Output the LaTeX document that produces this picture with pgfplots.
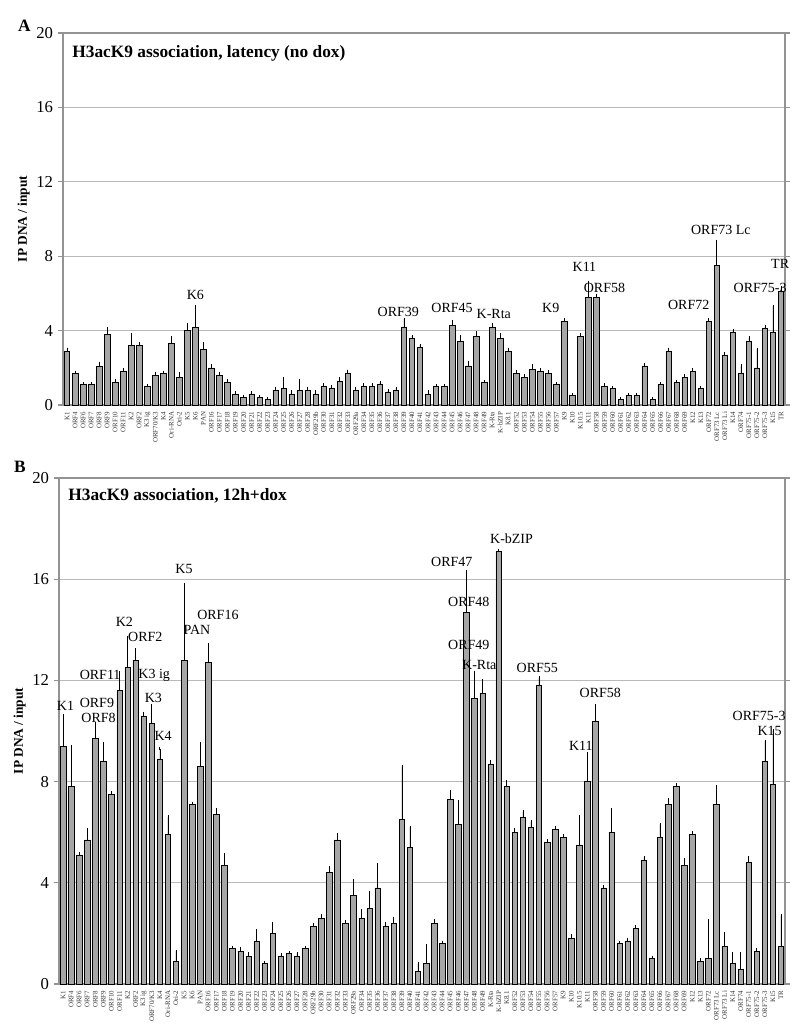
\documentclass[border=0pt]{standalone}
\usepackage{fontspec}
\setmainfont{Liberation Serif}
\setsansfont{Liberation Sans}
\usepackage{pgfplots}
\usepackage{pgfplotstable}
\pgfplotsset{compat=1.18}

% latency (no dox)
\pgfplotstableread[col sep=comma]{
name,y,e
K1,2.9,0.1
ORF4,1.7,0.05
ORF6,1.1,0.05
ORF7,1.1,0.05
ORF8,2.1,0.1
ORF9,3.8,0.3
ORF10,1.2,0.1
ORF11,1.8,0.1
K2,3.2,0.6
ORF2,3.2,0.1
K3 ig,1.0,0.05
ORF70/K3,1.6,0.1
K4,1.7,0.05
Ori-RNA,3.3,0.3
Ori-2,1.5,0.2
K5,4.0,0.3
K6,4.2,1.1
PAN,3.0,0.3
ORF16,2.0,0.1
ORF17,1.6,0.1
ORF18,1.2,0.1
ORF19,0.6,0.05
ORF20,0.4,0.05
ORF21,0.6,0.05
ORF22,0.4,0.05
ORF23,0.3,0.05
ORF24,0.8,0.1
ORF25,0.9,0.5
ORF26,0.6,0.1
ORF27,0.8,0.5
ORF28,0.8,0.1
ORF29b,0.6,0.1
ORF30,1.0,0.1
ORF31,0.9,0.1
ORF32,1.3,0.1
ORF33,1.7,0.1
ORF29a,0.8,0.1
ORF34,1.0,0.1
ORF35,1.0,0.1
ORF36,1.1,0.1
ORF37,0.7,0.05
ORF38,0.8,0.1
ORF39,4.2,0.4
ORF40,3.6,0.1
ORF41,3.1,0.1
ORF42,0.6,0.1
ORF43,1.0,0.05
ORF44,1.0,0.05
ORF45,4.3,0.2
ORF46,3.4,0.3
ORF47,2.1,0.2
ORF48,3.7,0.2
ORF49,1.2,0.05
K-Rta,4.2,0.1
K-bZIP,3.6,0.2
K8.1,2.9,0.1
ORF52,1.7,0.1
ORF53,1.5,0.1
ORF54,1.9,0.2
ORF55,1.8,0.1
ORF56,1.7,0.1
ORF57,1.1,0.05
K9,4.5,0.1
K10,0.5,0.05
K10.5,3.7,0.1
K11,5.8,0.8
ORF58,5.8,0.1
ORF59,1.0,0.1
ORF60,0.9,0.05
ORF61,0.3,0.05
ORF62,0.5,0.05
ORF63,0.5,0.05
ORF64,2.1,0.05
ORF65,0.3,0.05
ORF66,1.1,0.05
ORF67,2.9,0.1
ORF68,1.2,0.05
ORF69,1.5,0.1
K12,1.8,0.1
K13,0.9,0.05
ORF72,4.5,0.1
ORF73 Lc,7.5,1.3
ORF73 Li,2.7,0.05
K14,3.9,0.1
ORF74,1.7,0.4
ORF75-1,3.4,0.2
ORF75-2,2.0,1.0
ORF75-3,4.1,0.1
K15,3.9,1.4
TR,6.1,0.2
}\dataA

% 12h + dox
\pgfplotstableread[col sep=comma]{
name,y,e
K1,9.4,1.2
ORF4,7.8,1.6
ORF6,5.1,0.05
ORF7,5.7,0.4
ORF8,9.7,0.6
ORF9,8.8,0.7
ORF10,7.5,0.05
ORF11,11.6,0.7
K2,12.5,1.2
ORF2,12.8,0.4
K3 ig,10.6,0.1
ORF70/K3,10.3,0.7
K4,8.9,0.4
Ori-RNA,5.9,0.7
Ori-2,0.9,0.4
K5,12.8,3.0
K6,7.1,0.05
PAN,8.6,0.9
ORF16,12.7,0.7
ORF17,6.7,0.2
ORF18,4.7,0.4
ORF19,1.4,0.05
ORF20,1.3,0.1
ORF21,1.1,0.1
ORF22,1.7,0.4
ORF23,0.8,0.05
ORF24,2.0,0.4
ORF25,1.1,0.05
ORF26,1.2,0.05
ORF27,1.1,0.1
ORF28,1.4,0.05
ORF29b,2.3,0.05
ORF30,2.6,0.1
ORF31,4.4,0.2
ORF32,5.7,0.2
ORF33,2.4,0.05
ORF29a,3.5,0.6
ORF34,2.6,0.3
ORF35,3.0,0.6
ORF36,3.8,0.9
ORF37,2.3,0.1
ORF38,2.4,0.2
ORF39,6.5,2.1
ORF40,5.4,0.8
ORF41,0.5,0.3
ORF42,0.8,0.7
ORF43,2.4,0.1
ORF44,1.6,0.05
ORF45,7.3,0.3
ORF46,6.3,0.9
ORF47,14.7,1.6
ORF48,11.3,1.0
ORF49,11.5,0.5
K-Rta,8.7,0.1
K-bZIP,17.1,0.05
K8.1,7.8,0.2
ORF52,6.0,0.1
ORF53,6.6,0.2
ORF54,6.2,0.2
ORF55,11.8,0.3
ORF56,5.6,0.05
ORF57,6.1,0.1
K9,5.8,0.05
K10,1.8,0.1
K10.5,5.5,1.1
K11,8.0,1.1
ORF58,10.4,0.6
ORF59,3.8,0.05
ORF60,6.0,0.9
ORF61,1.6,0.05
ORF62,1.7,0.05
ORF63,2.2,0.05
ORF64,4.9,0.1
ORF65,1.0,0.05
ORF66,5.8,0.5
ORF67,7.1,0.2
ORF68,7.8,0.1
ORF69,4.7,0.2
K12,5.9,0.1
K13,0.9,0.05
ORF72,1.0,1.5
ORF73 Lc,7.1,0.7
ORF73 Li,1.5,0.5
K14,0.8,0.4
ORF74,0.6,0.6
ORF75-1,4.8,0.2
ORF75-2,1.3,0.05
ORF75-3,8.8,0.8
K15,7.9,2.1
TR,1.5,1.2
}\dataB

\pgfplotsset{
  panel/.style={
    scale only axis,
    ybar, bar width=4.1pt,
    xmin=0.5, xmax=90.5,
    ymin=0, ymax=20, ytick={0,4,...,20},
    ymajorgrids,
    grid style={gray!55, line width=0.7pt},
    axis line style={gray!85, line width=0.9pt},
    tick align=outside,
    ytick style={gray!85, line width=0.9pt},
    major tick length=4pt,
    xtick=data, xtick style={draw=none},
    xticklabels from table={\dataA}{name},
    x tick label style={rotate=90, anchor=east, inner sep=1pt,
      font=\fontsize{5.2}{5.2}\selectfont, text=black!80},
    y tick label style={font=\fontsize{12.5}{12.5}\selectfont},
    /pgf/number format/assume math mode=true,
    ylabel={\textbf{IP DNA / input}},
    ylabel style={font=\fontsize{10}{10}\selectfont, yshift=-2pt},
    clip=false,
  },
  bars/.style={fill=gray!70, draw=black, line width=0.4pt,
    error bars/.cd, y dir=plus, y explicit,
    error bar style={black, line width=0.5pt},
    error mark options={black, mark size=1.2pt, line width=0.5pt}},
}
\tikzset{lab/.style={font=\fontsize{10.5}{10.5}\selectfont, inner sep=0.5pt}}

\begin{document}
\begin{tikzpicture}
\useasboundingbox (0,0) rectangle (600pt,774pt);

\node[anchor=west, font=\bfseries\fontsize{13}{13}\selectfont] at (10pt,755pt) {A};
\node[anchor=west, font=\bfseries\fontsize{13}{13}\selectfont] at (7pt,423.5pt) {B};

\begin{axis}[panel, at={(47.25pt,470.25pt)}, anchor=south west,
  width=541.5pt, height=279pt]
\addplot[bars] table[x expr=\coordindex+1, y=y, y error=e] {\dataA};
\node[anchor=north west, font=\bfseries\fontsize{13}{13}\selectfont]
  at (rel axis cs:0,1) [xshift=3.5pt, yshift=-6pt] {H3acK9 association, latency (no dox)};
\node[lab] at (axis cs:17,5.9) {K6};
\node[lab] at (axis cs:42.3,5.0) {ORF39};
\node[lab] at (axis cs:49,5.2) {ORF45};
\node[lab] at (axis cs:54.2,4.9) {K-Rta};
\node[lab] at (axis cs:61.3,5.2) {K9};
\node[lab] at (axis cs:65.5,7.4) {K11};
\node[lab] at (axis cs:68,6.3) {ORF58};
\node[lab] at (axis cs:78.5,5.4) {ORF72};
\node[lab] at (axis cs:82.5,9.4) {ORF73 Lc};
\node[lab] at (axis cs:87.4,6.3) {ORF75-3};
\node[lab] at (axis cs:89.9,7.6) {TR};
\end{axis}

\begin{axis}[panel, at={(44.25pt,36pt)}, anchor=south west,
  width=544.5pt, height=379.5pt]
\addplot[bars] table[x expr=\coordindex+1, y=y, y error=e] {\dataB};
\node[anchor=north west, font=\bfseries\fontsize{13}{13}\selectfont]
  at (rel axis cs:0,1) [xshift=3.5pt, yshift=-4pt] {H3acK9 association, 12h+dox};
\node[lab] at (axis cs:1.3,11.0) {K1};
\node[lab] at (axis cs:5.2,11.1) {ORF9};
\node[lab] at (axis cs:5.4,10.5) {ORF8};
\node[lab] at (axis cs:5.6,12.2) {ORF11};
\node[lab] at (axis cs:8.6,14.3) {K2};
\node[lab] at (axis cs:11.2,13.7) {ORF2};
\node[lab] at (axis cs:12.3,12.2) {K3 ig};
\node[lab] at (axis cs:12.2,11.3) {K3};
\node[lab] at (axis cs:13.4,9.8) {K4};
\node[lab] at (axis cs:16,16.4) {K5};
\node[lab] at (axis cs:17.6,14.0) {PAN};
\node[lab] at (axis cs:20.2,14.6) {ORF16};
\node[lab] at (axis cs:49.2,16.7) {ORF47};
\node[lab] at (axis cs:51.3,15.1) {ORF48};
\node[lab] at (axis cs:51.3,13.4) {ORF49};
\node[lab] at (axis cs:52.6,12.6) {K-Rta};
\node[lab] at (axis cs:56.6,17.6) {K-bZIP};
\node[lab] at (axis cs:59.8,12.5) {ORF55};
\node[lab] at (axis cs:65.2,9.4) {K11};
\node[lab] at (axis cs:67.6,11.5) {ORF58};
\node[lab] at (axis cs:87.3,10.6) {ORF75-3};
\node[lab] at (axis cs:88.6,10.0) {K15};
\end{axis}
\end{tikzpicture}
\end{document}
